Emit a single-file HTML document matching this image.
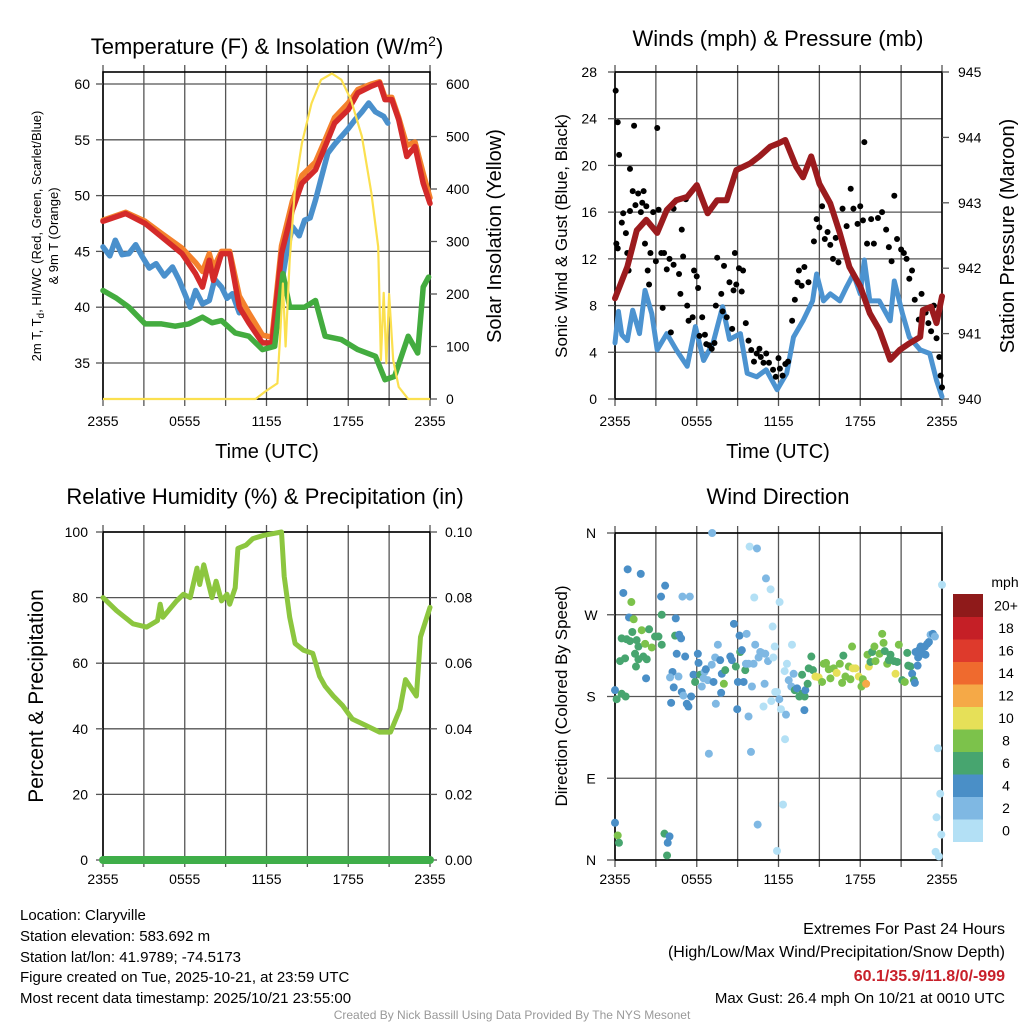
<!DOCTYPE html>
<html><head><meta charset="utf-8"><title>Claryville Meteogram</title>
<style>
html,body{margin:0;padding:0;background:#fff;}
svg{display:block;font-family:"Liberation Sans",sans-serif;}
</style></head>
<body>
<svg id="chart" width="1024" height="1024" viewBox="0 0 1024 1024">
<rect width="1024" height="1024" fill="#fff"/>
<text x="267" y="54" font-size="22" text-anchor="middle">Temperature (F) &amp; Insolation (W/m<tspan dy="-8" font-size="14">2</tspan><tspan dy="8">)</tspan></text>
<text x="778" y="46" font-size="22" text-anchor="middle">Winds (mph) &amp; Pressure (mb)</text>
<text x="265" y="504" font-size="22" text-anchor="middle">Relative Humidity (%) &amp; Precipitation (in)</text>
<text x="778" y="504" font-size="22" text-anchor="middle">Wind Direction</text>

<text transform="translate(41,236) rotate(-90)" font-size="13" text-anchor="middle">2m T, T<tspan dy="3" font-size="10">d</tspan><tspan dy="-3">, HI/WC (Red, Green, Scarlet/Blue)</tspan></text>
<text transform="translate(58,236) rotate(-90)" font-size="13" text-anchor="middle">&amp; 9m T (Orange)</text>
<text transform="translate(501,236) rotate(-90)" font-size="20" text-anchor="middle">Solar Insolation (Yellow)</text>
<text x="267" y="458" font-size="20" text-anchor="middle">Time (UTC)</text>
<text transform="translate(567,236) rotate(-90)" font-size="17" text-anchor="middle">Sonic Wind &amp; Gust (Blue, Black)</text>
<text transform="translate(1014,236) rotate(-90)" font-size="20" text-anchor="middle">Station Pressure (Maroon)</text>
<text x="778" y="458" font-size="20" text-anchor="middle">Time (UTC)</text>
<text transform="translate(43,696) rotate(-90)" font-size="21" text-anchor="middle">Percent &amp; Precipitation</text>
<text transform="translate(567,696) rotate(-90)" font-size="17" text-anchor="middle">Direction (Colored By Speed)</text>

<g id="p1"></g>
<g id="p2"></g>
<g id="p3"></g>
<g id="p4"></g>
<g id="cbar"></g>

<g font-size="15">
<text x="20" y="920">Location: Claryville</text>
<text x="20" y="941">Station elevation: 583.692 m</text>
<text x="20" y="962">Station lat/lon: 41.9789; -74.5173</text>
<text x="20" y="982">Figure created on Tue, 2025-10-21, at 23:59 UTC</text>
<text x="20" y="1003">Most recent data timestamp: 2025/10/21 23:55:00</text>
</g>
<g font-size="16" text-anchor="end">
<text x="1005" y="934">Extremes For Past 24 Hours</text>
<text x="1005" y="957">(High/Low/Max Wind/Precipitation/Snow Depth)</text>
<text x="1005" y="981" font-weight="bold" fill="#c8202a">60.1/35.9/11.8/0/-999</text>
<text x="1005" y="1003" font-size="15">Max Gust: 26.4 mph On 10/21 at 0010 UTC</text>
</g>
<text x="512" y="1019" font-size="12" fill="#999" text-anchor="middle">Created By Nick Bassill Using Data Provided By The NYS Mesonet</text>
</svg>
<script>
const xTickLabels = ["2355","0555","1155","1755","2355"];
const tempTicks = [35,40,45,50,55,60];
const solarTicks = [0,100,200,300,400,500,600];
const windTicks = [0,4,8,12,16,20,24,28];
const presTicks = [940,941,942,943,944,945];
const rhTicks = [0,20,40,60,80,100];
const precipTicks = ["0.00","0.02","0.04","0.06","0.08","0.10"];
const dirLabels = ["N","E","S","W","N"];

const redT = [0,1.66,3.1,4.3,5.8,6.8,7.3,7.8,8.1,8.7,9.3,10.0,10.7,11.7,12.4,13.1,13.9,14.6,15.6,16.3,17.0,18.0,18.7,19.7,20.3,20.7,21.2,21.7,22.3,22.9,23.5,24];
const redV = [47.7,48.4,47.5,46.3,44.8,43.0,41.8,44.2,42.4,44.8,44.8,40.0,38.6,36.8,36.8,44.8,48.7,51.1,52.3,54.4,56.5,57.7,59.2,59.8,60.1,58.6,58.6,56.8,53.5,54.4,51.1,49.3];
const orangeV = [47.8,48.5,47.7,46.6,45.3,44.0,43.2,44.8,43.5,45.0,45.0,41.0,39.5,37.5,37.3,45.5,49.5,51.8,53.0,55.0,57.0,58.3,59.5,60.0,60.2,58.8,58.8,57.0,54.5,54.8,52.0,49.8];
const blueT = [0,0.5,0.9,1.4,1.9,2.4,2.9,3.4,3.9,4.5,5.1,5.6,6.0,6.4,6.8,7.3,7.8,8.2,8.7,9.1,9.5,10.0,11.3,13.1,13.5,13.9,14.4,14.8,15.2,15.6,16.0,16.5,17.0,17.5,18.0,18.5,19.0,19.5,20.0,20.6,20.9,22.1];
const blueV = [45.4,44.6,46.0,44.7,44.8,45.6,44.5,43.5,43.9,42.8,43.6,42.4,41.2,40.0,41.5,40.3,40.6,42.5,41.8,40.8,41.2,39.5,34.9,42.1,45.0,47.2,46.4,47.8,48.0,49.6,51.5,53.8,54.6,55.3,56.0,56.8,57.5,58.3,57.5,57.1,56.5,52.1];
const greenT = [0,1.0,1.9,3.1,4.3,5.3,6.3,7.3,8.0,8.7,9.7,10.7,11.7,12.6,13.2,13.7,14.8,15.6,16.3,17.5,18.7,20.0,20.7,21.4,22.4,23.1,23.5,23.9];
const greenV = [41.5,40.8,40,38.5,38.5,38.3,38.5,39.1,38.6,38.8,37.7,37.4,36.2,36.5,43,40,40,40.6,37.4,37.1,36.2,35.6,33.5,33.8,37.4,35.9,41.8,42.7];
const solarT = [0,11.2,11.9,12.8,13.0,13.2,13.4,13.7,14.1,14.6,15.3,16.0,16.8,17.5,18.2,19.0,19.7,20.2,20.4,20.6,20.8,21.0,21.3,21.7,22.4,24];
const solarV = [0,0,14,30,119,220,100,265,404,487,563,608,620,608,570,500,392,290,74,202,68,200,74,23,0,0];

const windT = [0,0.25,0.5,0.9,1.3,1.8,2.2,2.7,3.1,3.8,4.5,5.3,5.9,6.5,7.2,7.9,8.4,9.2,9.7,10.4,11.1,11.9,12.6,13.1,13.8,14.5,14.8,15.3,15.8,16.5,17.0,17.5,18.0,18.3,18.7,19.4,20.2,20.5,21.1,21.6,22.4,23.1,23.6,24];
const windV = [4.8,7.5,5.5,5.0,7.6,5.6,9.3,7.3,4.2,5.6,4.2,2.8,6.2,3.3,4.8,7.9,5.1,5.6,2.2,1.9,2.5,0.8,2.2,5.3,6.7,8.4,10.7,8.4,9.0,8.4,9.6,10.7,9.0,11.9,8.4,8.4,6.7,10.1,7.3,5.3,4.2,3.9,1.6,0.2];
const presT = [0,0.9,1.6,2.3,3.1,3.8,4.5,5.3,6.0,6.8,7.5,8.2,8.9,9.9,10.6,11.4,12.0,12.5,13.3,13.8,14.4,15.0,15.8,16.5,17.2,18.0,18.7,19.4,20.2,20.9,21.6,22.4,22.6,23.2,23.6,24];
const presV = [941.54,942.02,942.58,942.74,942.54,942.89,943.04,943.09,943.27,942.84,943.04,943.04,943.5,943.6,943.71,943.86,943.91,943.96,943.55,943.39,943.71,943.29,942.99,942.54,942.02,941.72,941.31,941.06,940.6,940.75,940.85,940.95,941.36,941.41,941.16,941.57];
const gustT = [0.05,0.2,0.3,0.1,0.2,0.5,0.6,0.8,0.9,1.0,1.1,1.1,1.3,1.4,1.5,1.7,1.9,2.0,2.1,2.3,2.2,2.4,2.5,2.6,2.8,3.0,3.1,3.2,3.4,3.5,3.6,3.8,4.0,4.3,4.1,4.3,4.7,4.9,4.8,5.2,5.0,5.3,5.4,5.7,5.8,6.0,6.1,6.2,6.4,6.6,6.7,6.9,7.1,7.3,7.5,7.4,7.8,7.9,8.0,8.2,8.4,8.6,8.7,8.8,8.9,9.1,9.3,9.4,9.6,9.8,10.0,10.2,10.4,10.6,10.7,10.9,11.1,11.3,11.6,11.8,12.0,12.1,12.3,12.5,12.7,13.0,13.2,13.4,13.5,13.7,13.9,14.2,14.6,14.8,15.0,15.2,15.4,15.6,15.8,16.0,16.2,16.4,16.7,17.0,17.3,17.5,17.8,18.0,18.2,18.3,18.5,18.8,19.0,19.3,19.6,19.9,20.1,20.3,20.5,20.7,21.0,21.2,21.4,21.6,21.8,22.0,22.3,22.5,22.8,23.0,23.2,23.4,23.6,23.8,23.9,24.0];
const gustV = [26.4,23.7,20.9,13.3,12.9,15.1,15.9,14.2,12.5,11.0,16.1,19.7,17.8,23.4,16.6,17.6,16.0,16.8,17.8,16.5,13.3,11.0,9.8,12.5,16.0,11.8,23.2,16.2,12.5,7.8,12.5,11.1,12.0,11.5,5.7,16.3,10.7,14.5,9.0,17.1,12.2,8.0,6.7,7.0,11.0,10.5,9.5,5.4,7.0,5.5,4.7,4.6,4.3,4.8,12.1,8.0,9.0,7.5,11.4,7.0,10.0,6.0,9.3,12.5,9.8,11.2,9.2,11.0,6.5,5.0,4.2,3.2,3.9,4.3,3.6,3.1,3.9,3.1,2.5,1.9,3.5,2.6,2.0,3.0,3.2,6.7,8.5,10.0,11.0,9.7,11.3,10.0,13.5,15.4,14.7,16.5,13.7,14.3,13.2,12.0,13.8,11.7,16.3,14.8,18.0,16.3,15.0,16.5,15.3,22.0,13.3,15.4,13.3,15.5,16.0,14.5,13.0,11.8,17.4,13.7,12.8,12.5,12.0,10.3,11.0,8.5,6.8,9.0,7.4,6.5,5.8,8.0,5.2,3.6,2.0,1.0];

const rhT = [0,1.0,2.2,3.2,4.0,4.2,4.4,5.4,5.9,6.4,6.9,7.1,7.4,8.0,8.3,8.7,9.1,9.3,9.7,9.9,10.5,11.0,11.8,12.5,13.1,13.3,13.7,14.1,14.7,15.4,15.9,16.3,16.9,17.6,18.3,19.3,20.3,21.1,21.8,22.2,23.0,23.3,24];
const rhV = [80,76,72,71,73,78,74,79,81,80,89,84,90,80,85,79,81,78,83,95,96,98,99,99.5,100,86.5,74,66,64,63,56,53,50,47,43,41,39,39,46,55,50,68,77];
const precipT = [0,24];
const precipV = [0,0];

const dirT = [0,0.12,0.49,0.78,0.93,1.89,0.61,1.2,1.03,1.37,0.49,0.86,1.1,1.27,1.59,1.72,1.47,1.96,2.21,2.5,2.7,2.94,3.19,3.43,2.08,1.72,2.33,0.37,0.74,1.54,2.28,3.38,3.68,3.43,4.46,4.41,4.71,4.85,4.53,5.15,4.22,4.04,4.66,4.31,4.9,5.02,5.59,5.27,5.39,4.12,4.95,5.49,6.08,6.13,5.76,5.88,6.25,6.5,6.57,6.81,6.37,6.67,7.1,7.23,7.35,7.55,7.72,7.84,8.09,7.99,8.46,8.58,8.73,9.14,9.19,9.31,8.87,9.02,9.44,9.56,9.61,9.8,9.66,10.05,10.29,10.54,10.66,10.78,11.03,11.23,10.98,10.17,8.97,7.79,7.4,9.8,10.9,11.47,11.76,11.89,12.06,12.18,12.55,12.94,13.11,12.75,11.72,11.62,12.45,12.62,12.99,7.13,9.88,10.42,11.08,11.42,10.22,12.08,11.57,12.48,9.98,6.89,13.19,13.36,13.53,13.73,13.92,13.97,13.9,13.73,14.14,14.22,14.41,14.53,14.71,14.95,15.2,15.32,15.49,15.69,15.81,16.05,16.27,16.5,16.67,16.76,16.91,17.16,17.4,17.28,17.45,17.65,17.89,18.09,18.19,18.43,18.63,18.53,18.75,18.87,19.12,19.04,19.41,19.61,19.71,19.8,19.98,20.1,20.22,20.47,20.59,20.71,20.83,21.08,21.27,21.45,21.52,21.69,21.81,21.94,22.01,22.21,22.25,22.06,22.43,22.6,22.79,22.92,23.04,23.16,23.33,23.48,22.75,22.55,22.3,24.0,23.7,23.87,23.6,23.95,23.53,23.77,10.47,12.33,11.89,0,0.2,0.29,3.63,4.0,3.87,3.82];
const dirDeg = [187,177,183,180,320,315,294,284,267,265,244,243,241,251,242,235,227,253,238,254,234,246,246,237,224,221,221,219,222,213,200,290,302,270,266,247,248,244,227,224,207,201,202,190,185,181,180,172,169,173,290,290,227,217,204,196,204,200,207,198,191,210,215,196,223,237,220,205,209,194,224,220,260,247,229,231,213,196,196,209,216,216,249,191,237,223,229,228,227,219,194,216,166,184,172,158,169,175,185,185,177,166,160,191,205,198,235,223,208,216,237,360,345,343,310,298,289,284,257,133,119,117,187,189,180,183,180,187,165,204,194,211,224,209,202,201,196,216,217,210,200,211,206,216,195,225,202,213,235,199,211,211,202,191,199,194,213,226,218,229,219,235,227,249,239,230,216,220,226,219,205,218,237,198,196,228,214,213,205,198,195,214,223,229,235,227,226,238,240,248,249,246,235,233,231,303,123,73,47,28,9,4,39,61,10,41,27,19,29,26,19,5];
const dirSpd = [4,7,6,6,4,4,4,8,4,8,6,6,6,6,6,6,6,8,8,6,8,6,6,6,6,6,6,6,6,6,4,4,4,6,4,6,4,4,4,4,4,2,2,4,4,2,4,4,4,4,2,2,4,4,4,6,6,2,2,2,2,4,2,4,2,2,4,4,6,8,4,4,4,4,6,4,6,4,4,6,2,2,2,2,2,2,2,2,2,2,2,2,4,4,2,2,1,1,1,1,2,1,2,2,2,2,1,1,1,1,1,2,1,2,2,1,1,1,1,1,2,2,6,4,6,6,6,4,4,6,6,6,6,7,10,10,8,8,8,8,8,8,10,8,8,6,8,8,8,8,10,10,10,8,8,13,10,8,6,6,8,8,8,8,8,6,8,6,6,6,10,6,8,6,8,6,6,6,4,6,4,4,4,4,4,4,4,4,4,2,4,2,4,4,4,1,1,1,1,1,1,1,2,1,1,4,8,6,6,4,4,6];
const speedColors = ["#b3e0f5","#7fb8e3","#4a8fc7","#47a56f","#7cc24b","#e6e058","#f5a947","#ef6a2e","#de3a2c","#c51f26","#8f1a1a"];
const speedLabels = ["0","2","4","6","8","10","12","14","16","18","20+"];

const NS = "http://www.w3.org/2000/svg";
function mk(parent, tag, attrs, txt){
  const el = document.createElementNS(NS, tag);
  for (const k in attrs) el.setAttribute(k, attrs[k]);
  if (txt !== undefined) el.textContent = txt;
  parent.appendChild(el);
  return el;
}
function pathFrom(ts, vs, xf, yf, gap){
  let d = "", prev = null;
  for (let i=0;i<ts.length;i++){
    const cmd = (prev===null || (gap && ts[i]-prev>gap)) ? "M" : "L";
    d += cmd + xf(ts[i]).toFixed(1) + "," + yf(vs[i]).toFixed(1) + " ";
    prev = ts[i];
  }
  return d;
}
function frame(g, x0, x1, y0, y1, hLines, vLines){
  hLines.forEach(y=>{
    const l = mk(g,"line",{x1:x0,x2:x1,y1:y,y2:y,stroke:"#555","stroke-width":1.3});
    
    
  });
  vLines.forEach(x=>{
    const l = mk(g,"line",{x1:x,x2:x,y1:y0,y2:y1+7,stroke:"#555","stroke-width":1.3});
    
    
    const t = mk(g,"line",{x1:x,x2:x,y1:y0-7,y2:y0,stroke:"#555","stroke-width":1.3});
    
    
  });
  const r = mk(g,"rect",{x:x0,y:y0,width:x1-x0,height:y1-y0,fill:"none",stroke:"#000","stroke-width":1.6});
  
  
}
function xLabels(g, xf, y){
  xTickLabels.forEach((s,i)=>{
    const t = mk(g,"text",{x:xf(i*6),y:y,"font-size":14,"text-anchor":"middle"},s);
    
    
  });
}
function yLabels(g, ticks, yf, x, anchor, fmt, name, tickX0, tickX1){
  ticks.forEach(v=>{
    const y = yf(typeof v==="string"?parseFloat(v):v);
    const t = mk(g,"text",{x:x,y:y+5,"font-size":14,"text-anchor":anchor}, fmt?fmt(v):String(v));
    
    
    const tk = mk(g,"line",{x1:tickX0,x2:tickX1,y1:y,y2:y,stroke:"#555","stroke-width":1.3});
    
    
  });
}
const HW = 327/24;

(function(){
  const g = document.getElementById("p1");
  const X0=103, X1=430, Y0=72, Y1=399;
  const xf = h => X0 + h*HW;
  const yT = v => 363 - (v-35)*11.16;
  const yS = v => 399 - v*0.525;
  frame(g,X0,X1,Y0,Y1,tempTicks.map(yT),[0,3,6,9,12,15,18,21,24].map(xf));
  yLabels(g,tempTicks,yT,90,"end",null,"temp-y-tick-label",X0-7,X0);
  yLabels(g,solarTicks,yS,446,"start",null,"solar-y-tick-label",X1,X1+7);
  xLabels(g,xf,426);
  const o = mk(g,"path",{d:pathFrom(redT,orangeV,xf,yT),fill:"none",stroke:"#f4812c","stroke-width":5.5,"stroke-linejoin":"round","stroke-linecap":"round"});
  
  
  const b = mk(g,"path",{d:pathFrom(blueT,blueV,xf,yT,1.0),fill:"none",stroke:"#4a90cc","stroke-width":5.5,"stroke-linejoin":"round","stroke-linecap":"round"});
  
  
  const r = mk(g,"path",{d:pathFrom(redT,redV,xf,yT),fill:"none",stroke:"#d42a2a","stroke-width":5.5,"stroke-linejoin":"round","stroke-linecap":"round"});
  
  
  const gr = mk(g,"path",{d:pathFrom(greenT,greenV,xf,yT),fill:"none",stroke:"#43ac3f","stroke-width":5.5,"stroke-linejoin":"round","stroke-linecap":"round"});
  
  
  const s = mk(g,"path",{d:pathFrom(solarT,solarV,xf,yS),fill:"none",stroke:"#fbe04f","stroke-width":2.2,"stroke-linejoin":"round"});
  
  
})();

(function(){
  const g = document.getElementById("p2");
  const X0=615, X1=942, Y0=72, Y1=399;
  const xf = h => X0 + h*HW;
  const yW = v => 399 - v*327/28;
  const yP = v => 399 - (v-940)*65.4;
  frame(g,X0,X1,Y0,Y1,windTicks.map(yW),[0,3,6,9,12,15,18,21,24].map(xf));
  yLabels(g,windTicks,yW,597,"end",null,"wind-y-tick-label",X0-7,X0);
  yLabels(g,presTicks,yP,958,"start",null,"pressure-y-tick-label",X1,X1+7);
  xLabels(g,xf,426);
  const w = mk(g,"path",{d:pathFrom(windT,windV,xf,yW),fill:"none",stroke:"#4c93d0","stroke-width":5,"stroke-linejoin":"round","stroke-linecap":"round"});
  
  
  gustT.forEach((t,i)=>{
    const c = mk(g,"circle",{cx:xf(t),cy:yW(gustV[i]),r:3,fill:"#000"});
    
    
  });
  const p = mk(g,"path",{d:pathFrom(presT,presV,xf,yP),fill:"none",stroke:"#9b1b1e","stroke-width":6,"stroke-linejoin":"round","stroke-linecap":"round"});
  
  
})();

(function(){
  const g = document.getElementById("p3");
  const X0=103, X1=430, Y0=532, Y1=860;
  const xf = h => X0 + h*HW;
  const yR = v => 860 - v*3.28;
  const yPr = v => 860 - v*3280;
  frame(g,X0,X1,Y0,Y1,rhTicks.map(yR),[0,3,6,9,12,15,18,21,24].map(xf));
  yLabels(g,rhTicks,yR,88,"end",null,"rh-y-tick-label",X0-7,X0);
  yLabels(g,precipTicks,yPr,445,"start",null,"precip-y-tick-label",X1,X1+7);
  xLabels(g,xf,884);
  const r = mk(g,"path",{d:pathFrom(rhT,rhV,xf,yR),fill:"none",stroke:"#8cc63f","stroke-width":5,"stroke-linejoin":"round","stroke-linecap":"round"});
  
  
  const p = mk(g,"path",{d:pathFrom(precipT,precipV,xf,yPr),fill:"none",stroke:"#3fae49","stroke-width":8,"stroke-linecap":"round"});
  
  
})();

(function(){
  const g = document.getElementById("p4");
  const X0=615, X1=942, Y0=533, Y1=860;
  const xf = h => X0 + h*HW;
  const yD = d => 860 - d*(327/360);
  const degTicks = [0,90,180,270,360];
  frame(g,X0,X1,Y0,Y1,degTicks.map(yD),[0,3,6,9,12,15,18,21,24].map(xf));
  degTicks.forEach((d,i)=>{
    const t = mk(g,"text",{x:591,y:yD(d)+5,"font-size":14,"text-anchor":"middle"},dirLabels[i]);
    
    
    const tk = mk(g,"line",{x1:X0-8,x2:X0,y1:yD(d),y2:yD(d),stroke:"#555","stroke-width":1.3});
    
    
  });
  xLabels(g,xf,884);
  dirT.forEach((t,i)=>{
    const bin = Math.min(10, Math.floor(dirSpd[i]/2));
    const c = mk(g,"circle",{cx:xf(t),cy:yD(dirDeg[i]),r:4,fill:speedColors[bin]});
    
    
  });
  const cb = document.getElementById("cbar");
  const bx=953, bw=30, top=594, bh=22.5;
  const ct = mk(cb,"text",{x:1005,y:587,"font-size":14,"text-anchor":"middle"},"mph");
  
  
  for (let i=0;i<speedColors.length;i++){
    const y = top + (10-i)*bh;
    const r = mk(cb,"rect",{x:bx,y:y,width:bw,height:bh+0.5,fill:speedColors[i]});
    
    
    const t = mk(cb,"text",{x:1006,y:y+bh/2+5,"font-size":14,"text-anchor":"middle"},speedLabels[i]);
    
    
  }
})();
</script>
</body></html>
